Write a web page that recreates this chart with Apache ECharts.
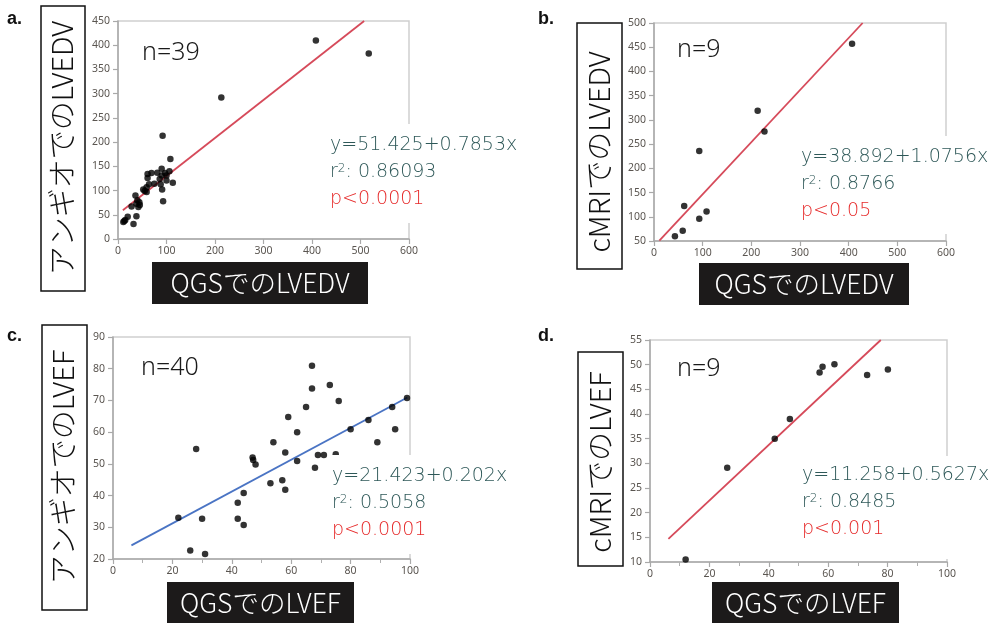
<!DOCTYPE html>
<html><head><meta charset="utf-8">
<script src="https://cdn.jsdelivr.net/npm/echarts@6/dist/echarts.min.js"></script>
<style>html,body{margin:0;padding:0;background:#fff}#c{width:996px;height:623px}</style>
</head><body><div id="c"></div>
<script>
// ---- Data ----
// a. angio LVEDV vs QGS LVEDV
const aX = [408,517,213,92,108,90,106,97,81,69,61,61,90,86,100,75,64,59,52,59,91,113,93,36,40,44,38,45,42,28,38,20,15,11,32,100,55,88,13];
const aY = [410,383,292,213,165,145,140,136,137,136,134,126,131,124,121,114,113,107,102,97,102,116,78,90,80,76,73,70,66,67,47,46,39,35,31,131,99,113,37];
const aLineX = [10, 507.5];
const aLineY = [59.3, 450];
// b. cMRI LVEDV vs QGS LVEDV
const bX = [407,213,227,93,62,108,93,59,43];
const bY = [457,319,276,236,122,111,96,71,60];
const bLineX = [11, 428.7];
const bLineY = [50.7, 500];
// c. angio LVEF vs QGS LVEF
const cX = [67,67,73,76,65,59,62,99,94,86,80,95,89,54,28,58,47,47.2,48,62,69,71,75,68,53,57,58,44,42,42,44,30,22,26,31];
const cY = [80.9,73.8,74.9,69.8,67.9,64.8,60,70.8,67.9,63.8,60.9,60.9,56.8,56.8,54.7,53.6,52,51.2,49.8,50.9,52.8,52.8,53,48.8,43.9,44.8,41.8,40.8,37.7,32.7,30.7,32.7,33,22.7,21.6];
const cLineX = [6.2, 99.1];
const cLineY = [24.3, 70.9];
// d. cMRI LVEF vs QGS LVEF
const dX = [12,26,42,47.1,57.1,58.1,62.1,73.1,80.1];
const dY = [10.5,29.1,35,39,48.4,49.6,50.1,47.9,49];
const dLineX = [6.2, 77.7];
const dLineY = [14.7, 55];

// axis ranges [min, max, interval]
const aXRange = [0, 600, 100], aYRange = [0, 450, 50];
const bXRange = [0, 600, 100], bYRange = [50, 500, 50];
const cXRange = [0, 100, 20],  cYRange = [20, 90, 10];
const dXRange = [0, 100, 20],  dYRange = [10, 55, 5];

// texts
const panelLetters = ['a.', 'b.', 'c.', 'd.'];
const yNames = ['アンギオでのLVEDV', 'cMRIでのLVEDV', 'アンギオでのLVEF', 'cMRIでのLVEF'];
const xNames = ['QGSでのLVEDV', 'QGSでのLVEDV', 'QGSでのLVEF', 'QGSでのLVEF'];
const nLabels = ['n=39', 'n=9', 'n=40', 'n=9'];
const eqLabels = ['y=51.425+0.7853x', 'y=38.892+1.0756x', 'y=21.423+0.202x', 'y=11.258+0.5627x'];
const r2Labels = ['0.86093', '0.8766', '0.5058', '0.8485'];
const pLabels = ['p<0.0001', 'p<0.05', 'p<0.0001', 'p<0.001'];

// ---- Layout ----
const grids = [
  {left:118, top:21, width:291, height:218},
  {left:654, top:23, width:292, height:218},
  {left:113, top:337, width:297, height:222},
  {left:650, top:340, width:297, height:222}
];
const xRanges = [aXRange, bXRange, cXRange, dXRange];
const yRanges = [aYRange, bYRange, cYRange, dYRange];
const minor = [false, false, true, true];
const lineColors = ['#d64a5a', '#d64a5a', '#4a74c4', '#d64a5a'];
const pts = [[aX,aY],[bX,bY],[cX,cY],[dX,dY]];
const lns = [[aLineX,aLineY],[bLineX,bLineY],[cLineX,cLineY],[dLineX,dLineY]];

const tickFont = {fontFamily:'Noto Sans', fontSize:10.5, color:'#5a5550'};
const option = {
  backgroundColor:'#fff',
  animation:false,
  grid: grids.map(g => Object.assign({show:true, borderColor:'#cfcfcf', borderWidth:1.5, backgroundColor:'transparent'}, g)),
  xAxis: xRanges.map((r,i) => ({
    type:'value', gridIndex:i, min:r[0], max:r[1], interval:r[2],
    axisLine:{show:true, onZero:false, lineStyle:{color:'#a9a9a9', width:1.5}},
    axisTick:{show:true, length:5, lineStyle:{color:'#a9a9a9', width:1.2}},
    minorTick:{show:minor[i], splitNumber:2, length:4, lineStyle:{color:'#b0b0b0', width:1}},
    splitLine:{show:false},
    axisLabel:Object.assign({margin:7}, tickFont)
  })),
  yAxis: yRanges.map((r,i) => ({
    type:'value', gridIndex:i, min:r[0], max:r[1], interval:r[2],
    axisLine:{show:true, onZero:false, lineStyle:{color:'#a9a9a9', width:1.5}},
    axisTick:{show:true, length:5, lineStyle:{color:'#a9a9a9', width:1.2}},
    splitLine:{show:false},
    axisLabel:Object.assign({margin:8}, tickFont)
  })),
  series: [],
  graphic: []
};
for (let i=0;i<4;i++){
  option.series.push({
    type:'line', xAxisIndex:i, yAxisIndex:i, z:2, symbol:'none',
    data: lns[i][0].map((x,k)=>[x, lns[i][1][k]]),
    lineStyle:{color:lineColors[i], width:1.8}
  });
  option.series.push({
    type:'scatter', xAxisIndex:i, yAxisIndex:i, z:3, symbol:'circle', symbolSize:6.5,
    itemStyle:{color:'#000'},
    data: pts[i][0].map((x,k)=>[x, pts[i][1][k]])
  });
}

// boxes and texts
const yNameBoxes = [
  {x:41, y:6, w:44, h:285, cx:62, cy:148},
  {x:577, y:23, w:45, h:246, cx:599, cy:152},
  {x:42, y:325, w:45, h:285, cx:63, cy:467},
  {x:578, y:352, w:45, h:214, cx:600, cy:462}
];
const xNameBoxes = [
  {x:152, y:262, w:216, h:42},
  {x:699, y:263, w:210, h:42},
  {x:167, y:582, w:187, h:41},
  {x:712, y:582, w:187, h:41}
];
const letterPos = [[7,19],[538,19],[7,336],[538,336]];
const nPos = [[142,53],[677,50],[141,368],[677,369]];
const annBox = [
  {x:326, y:124, w:200, h:99},
  {x:797, y:136, w:195, h:98},
  {x:328, y:455, w:190, h:99},
  {x:797, y:456, w:195, h:103}
];
const annPos = [[330,145],[801,157],[332,476],[802,475]];
const lineGap = 27;
const teal = '#2e5858', red = '#e62a2a';
const annFont = 'DejaVu Sans';
const annSize = 19;

for (let i=0;i<4;i++){
  const yb = yNameBoxes[i], xb = xNameBoxes[i];
  option.graphic.push({type:'rect', z:100, shape:{x:yb.x, y:yb.y, width:yb.w, height:yb.h},
    style:{fill:'#fff', stroke:'#111', lineWidth:1.5}});
  option.graphic.push({type:'text', z:101, x:yb.cx, y:yb.cy, rotation:Math.PI/2,
    style:{text:yNames[i], fontFamily:'Noto Sans CJK JP', fontSize:29, fontWeight:300, fill:'#111', textAlign:'center', textVerticalAlign:'middle'}});
  option.graphic.push({type:'rect', z:100, shape:{x:xb.x, y:xb.y, width:xb.w, height:xb.h},
    style:{fill:'#1c1a1a'}});
  option.graphic.push({type:'text', z:101, x:xb.x + xb.w/2, y:xb.y + xb.h/2,
    style:{text:xNames[i], fontFamily:'Noto Sans CJK JP', fontSize:26.5, fontWeight:300, fill:'#fff', textAlign:'center', textVerticalAlign:'middle'}});
  option.graphic.push({type:'text', z:101, x:letterPos[i][0], y:letterPos[i][1],
    style:{text:panelLetters[i], fontFamily:'Liberation Sans', fontSize:18, fontWeight:'bold', fill:'#111', textAlign:'left', textVerticalAlign:'middle'}});
  option.graphic.push({type:'text', z:101, x:nPos[i][0], y:nPos[i][1],
    style:{text:nLabels[i], fontFamily:'Noto Sans', fontSize:25, fontWeight:300, fill:'#1a1a1a', textAlign:'left', textVerticalAlign:'middle'}});
  const ab = annBox[i];
  option.graphic.push({type:'rect', z:100, shape:{x:ab.x, y:ab.y, width:ab.w, height:ab.h},
    style:{fill:'#fff'}});
  const ap = annPos[i];
  option.graphic.push({type:'text', z:101, x:ap[0], y:ap[1],
    style:{text:eqLabels[i], fontFamily:annFont, fontSize:annSize, fontWeight:200, fill:teal, textAlign:'left', textVerticalAlign:'middle'}});
  option.graphic.push({type:'text', z:101, x:ap[0], y:ap[1]+lineGap,
    style:{text:'{n|r}{s|2}{n|: ' + r2Labels[i] + '}', textAlign:'left', textVerticalAlign:'middle',
      rich:{n:{fontFamily:annFont, fontSize:annSize, fontWeight:200, fill:teal},
            s:{fontFamily:annFont, fontSize:12, fontWeight:200, fill:teal, verticalAlign:'top'}}}});
  option.graphic.push({type:'text', z:101, x:ap[0], y:ap[1]+2*lineGap,
    style:{text:pLabels[i], fontFamily:annFont, fontSize:annSize, fontWeight:200, fill:red, textAlign:'left', textVerticalAlign:'middle'}});
}

const chart = echarts.init(document.getElementById('c'), null, {renderer:'canvas'});
chart.setOption(option);
</script>
</body></html>
